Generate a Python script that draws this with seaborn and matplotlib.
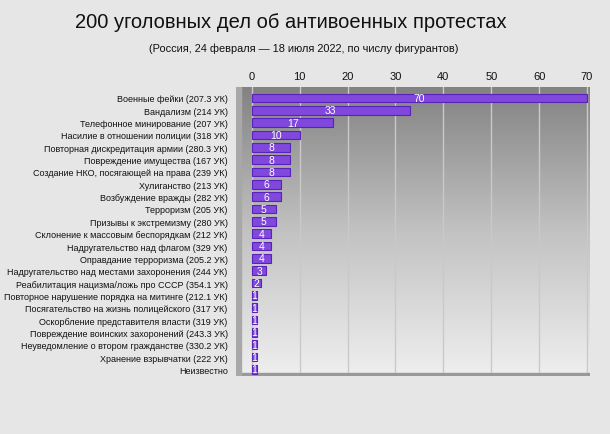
import matplotlib
matplotlib.use("Agg")
import matplotlib.pyplot as plt
import seaborn as sns
import numpy as np
import pandas as pd

categories = [
    "Военные фейки (207.3 УК)",
    "Вандализм (214 УК)",
    "Телефонное минирование (207 УК)",
    "Насилие в отношении полиции (318 УК)",
    "Повторная дискредитация армии (280.3 УК)",
    "Повреждение имущества (167 УК)",
    "Создание НКО, посягающей на права (239 УК)",
    "Хулиганство (213 УК)",
    "Возбуждение вражды (282 УК)",
    "Терроризм (205 УК)",
    "Призывы к экстремизму (280 УК)",
    "Склонение к массовым беспорядкам (212 УК)",
    "Надругательство над флагом (329 УК)",
    "Оправдание терроризма (205.2 УК)",
    "Надругательство над местами захоронения (244 УК)",
    "Реабилитация нацизма/ложь про СССР (354.1 УК)",
    "Повторное нарушение порядка на митинге (212.1 УК)",
    "Посягательство на жизнь полицейского (317 УК)",
    "Оскорбление представителя власти (319 УК)",
    "Повреждение воинских захоронений (243.3 УК)",
    "Неуведомление о втором гражданстве (330.2 УК)",
    "Хранение взрывчатки (222 УК)",
    "Неизвестно",
]
values = [70, 33, 17, 10, 8, 8, 8, 6, 6, 5, 5, 4, 4, 4, 3, 2, 1, 1, 1, 1, 1, 1, 1]
xticks = [0, 10, 20, 30, 40, 50, 60, 70]

title = "200 уголовных дел об антивоенных протестах"
subtitle = "(Россия, 24 февраля — 18 июля 2022, по числу фигурантов)"

sns.set_style("white")
plt.rcParams["font.family"] = ["Liberation Sans", "DejaVu Sans"]

df = pd.DataFrame({"cat": categories, "val": values})

fig = plt.figure(figsize=(6.1, 4.35), dpi=100, facecolor="#e6e6e6")
ax = fig.add_axes([0.387, 0.133, 0.58, 0.665])
ax.set_facecolor("#8a8a8a")

# gradient background (dark top -> light bottom)
grad = np.linspace(0, 1, 256).reshape(-1, 1)
cmap = matplotlib.colors.LinearSegmentedColormap.from_list("bg", ["#828282", "#c2c2c2", "#efefef"])
ax.imshow(grad, aspect="auto", cmap=cmap, extent=[0, 1, 0, 1],
          transform=ax.transAxes, zorder=0)

sns.barplot(data=df, x="val", y="cat", orient="h", color="#7a2ff5",
            width=0.68, edgecolor="#5a22b8", linewidth=0.8, ax=ax, zorder=3)

ax.set_xlim(-3.3, 70.6)
ax.set_ylim(len(categories) - 0.5 + 0.05, -0.9)

for x in xticks:
    ax.axvline(x, color="#c9c9c9", lw=1.0, zorder=1)

ax.bar_label(ax.containers[0], labels=[str(v) for v in values], label_type="center",
             color="white", fontsize=7.5, zorder=5)

ax.xaxis.tick_top()
ax.set_xticks(xticks)
ax.tick_params(axis="x", length=0, labelsize=8, pad=4, colors="#111111")
ax.tick_params(axis="y", length=0, labelsize=6.45, pad=6, colors="#111111")
ax.set_xlabel("")
ax.set_ylabel("")
for s in ax.spines.values():
    s.set_visible(False)

# 3D floor and wall impression
ax.axhspan(len(categories) - 0.5 + 0.05, len(categories) - 0.5 - 0.2, color="#999999", zorder=2)
ax.axvspan(-3.3, -2.2, color="#a8a8a8", zorder=2)

fig.text(0.477, 0.949, title, ha="center", va="center", fontsize=14.5, color="#111111")
fig.text(0.498, 0.889, subtitle, ha="center", va="center", fontsize=7.9, color="#111111")

fig.savefig("out.png", dpi=100, facecolor=fig.get_facecolor())
